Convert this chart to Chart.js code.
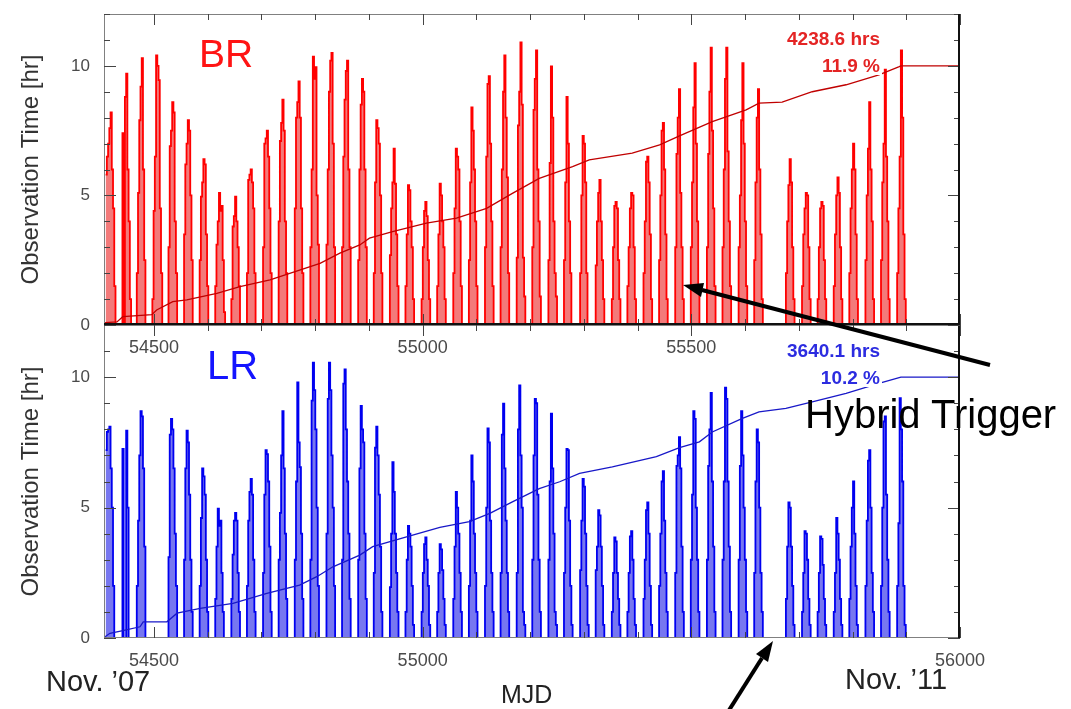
<!DOCTYPE html>
<html>
<head>
<meta charset="utf-8">
<script src="https://cdn.jsdelivr.net/npm/chart.js@4.4.0/dist/chart.umd.min.js"></script>
<style>
  html, body { margin: 0; padding: 0; background: #fff; }
  #page { position: relative; width: 1071px; height: 709px; overflow: hidden;
          font-family: "Liberation Sans", Arial, sans-serif; }
  canvas { position: absolute; left: 0; }
  #brChart { top: 0; z-index: 2; }
  #lrChart { top: 325px; z-index: 1; }
  .lbl { position: absolute; line-height: 1; white-space: nowrap; z-index: 3; }
  .stat { font-weight: bold; font-size: 19px; text-align: right; background: #fff; padding: 0 2px; }
  #arrows { position: absolute; left: 0; top: 0; z-index: 4; }
</style>
</head>
<body>
<div id="page">
  <canvas id="lrChart" width="1071" height="384" style="width:1071px;height:384px"></canvas>
  <canvas id="brChart" width="1071" height="360" style="width:1071px;height:360px"></canvas>

  <div class="lbl" style="left:199px; top:34px; font-size:39px; color:#ff1414;">BR</div>
  <div class="lbl" style="left:207px; top:345px; font-size:40px; color:#1414ff;">LR</div>

  <div class="lbl stat" style="right:189px; top:29px; color:#e42424;">4238.6 hrs</div>
  <div class="lbl stat" style="right:189px; top:56px; color:#e42424;">11.9 %</div>
  <div class="lbl stat" style="right:189px; top:341px; color:#2c2ce0;">3640.1 hrs</div>
  <div class="lbl stat" style="right:189px; top:368px; color:#2c2ce0;">10.2 %</div>

  <div class="lbl" style="left:805px; top:394px; font-size:40px; color:#000;">Hybrid Trigger</div>
  <div class="lbl" style="left:46px; top:667px; font-size:29px; color:#222;">Nov. ’07</div>
  <div class="lbl" style="left:501px; top:682px; font-size:25px; color:#222;">MJD</div>
  <div class="lbl" style="left:845px; top:665px; font-size:29px; color:#222;">Nov. ’11</div>

  <svg id="arrows" width="1071" height="709">
    <line x1="990" y1="365" x2="702" y2="290" stroke="#000" stroke-width="4"/>
    <polygon points="683,285 704,283 701,297" fill="#000"/>
    <line x1="726" y1="715" x2="762" y2="658" stroke="#000" stroke-width="4"/>
    <polygon points="773,641 768,662 756,654" fill="#000"/>
  </svg>
</div>

<script>
// MJD of the first night of each dark period (lunar cycle)
const cycleStart = [
  54410, 54439, 54468, 54497, 54527, 54556, 54585, 54614, 54644, 54673,
  54703, 54732, 54762, 54791, 54821, 54850, 54880, 54909, 54939, 54968,
  54998, 55027, 55057, 55086, 55116, 55145, 55175, 55204, 55234, 55263,
  55293, 55322, 55352, 55381, 55411, 55440, 55470, 55499, 55529, 55558,
  55588, 55617, 55676, 55706, 55735, 55765, 55794, 55824, 55853, 55883
];
const ENTRY_DAYS = 2.3; // days covered by each entry below

// observation hours per entry, BR station
const brHours = [
  [5.8, 6.5, 7.0, 7.6, 8.2, 6.0, 4.5, 1.5],
  [0, 7.4, 0, 8.8, 9.7, 6.0, 4.0, 1.0],
  [2.0, 5.1, 7.9, 9.2, 10.3, 6.0, 2.5, 0],
  [1.0, 4.4, 6.5, 10.4, 10.0, 9.45, 4.5, 2.0],
  [3.0, 6.9, 7.5, 8.6, 8.2, 4.0, 2.0, 0],
  [3.5, 6.2, 7.0, 7.9, 7.5, 5.0, 2.5, 0],
  [2.5, 4.95, 5.5, 6.4, 6.2, 3.5, 1.5, 0],
  [1.5, 3.1, 4.0, 5.1, 4.4, 4.6, 2.5, 0.5],
  [1.0, 3.8, 4.2, 4.95, 4.0, 3.0, 1.5, 0],
  [2.0, 5.6, 5.8, 6.0, 5.5, 4.5, 2.0, 0],
  [3.0, 7.0, 7.2, 7.5, 6.5, 4.5, 2.0, 0],
  [4.0, 7.1, 7.8, 8.7, 7.5, 4.0, 2.0, 0],
  [4.5, 8.0, 8.6, 9.4, 8.0, 4.5, 2.0, 0],
  [3.0, 6.0, 10.35, 9.5, 9.95, 5.0, 3.1, 0],
  [3.1, 6.0, 9.0, 10.2, 10.5, 7.0, 3.0, 0],
  [3.0, 6.5, 8.7, 9.8, 10.2, 6.0, 3.0, 0],
  [2.5, 6.0, 8.5, 9.5, 9.0, 6.0, 3.0, 0],
  [2.0, 5.5, 7.9, 7.6, 7.0, 5.0, 2.0, 0],
  [2.7, 4.5, 5.5, 6.8, 5.45, 3.5, 1.5, 0],
  [1.5, 3.5, 5.4, 5.2, 4.0, 3.0, 1.0, 0],
  [1.0, 3.0, 4.4, 4.75, 4.2, 2.5, 1.0, 0],
  [1.5, 3.5, 5.45, 5.0, 4.0, 3.0, 1.0, 0],
  [2.0, 4.5, 6.8, 6.5, 6.0, 4.0, 1.5, 0],
  [2.5, 5.5, 8.4, 7.5, 6.0, 4.0, 1.5, 0],
  [3.0, 6.5, 9.3, 9.6, 7.0, 4.0, 1.5, 0],
  [3.0, 6.0, 9.0, 10.4, 8.0, 5.7, 2.0, 0],
  [2.6, 7.7, 9.0, 10.9, 8.5, 2.6, 1.1, 0],
  [3.0, 8.3, 9.5, 10.6, 6.0, 4.0, 1.1, 0],
  [2.5, 6.25, 9.98, 8.0, 4.0, 2.0, 1.1, 0],
  [2.5, 5.5, 8.8, 7.0, 4.0, 2.0, 0, 0],
  [2.0, 5.0, 7.3, 7.0, 5.5, 2.0, 0, 0],
  [2.3, 4.0, 5.1, 5.6, 4.0, 2.5, 1.0, 0],
  [1.0, 3.0, 4.6, 4.75, 4.5, 2.5, 1.0, 0],
  [1.5, 3.0, 4.5, 5.1, 5.0, 3.0, 1.0, 0],
  [2.0, 4.0, 6.3, 6.5, 5.5, 3.5, 1.0, 0],
  [2.5, 5.0, 7.5, 7.8, 6.0, 3.5, 1.0, 0],
  [3.0, 6.6, 8.0, 9.1, 5.1, 3.0, 1.0, 0],
  [3.0, 5.5, 8.4, 10.1, 7.0, 4.0, 1.5, 0],
  [3.0, 6.6, 9.0, 10.7, 7.5, 4.5, 1.5, 0],
  [3.0, 6.0, 9.5, 10.7, 6.7, 4.0, 1.5, 0],
  [3.0, 5.0, 7.9, 10.1, 7.0, 4.0, 1.5, 0],
  [2.5, 5.5, 8.0, 9.1, 6.0, 3.5, 1.0, 0],
  [2.0, 4.0, 5.4, 6.4, 5.5, 3.0, 1.0, 0],
  [1.5, 3.5, 4.5, 5.1, 5.0, 3.0, 1.0, 0],
  [1.0, 3.0, 4.5, 4.75, 4.6, 2.5, 1.0, 0],
  [1.5, 3.5, 5.0, 5.7, 5.1, 3.0, 1.0, 0],
  [2.0, 4.5, 6.0, 7.0, 6.0, 3.5, 1.0, 0],
  [2.5, 5.0, 6.8, 8.6, 6.0, 4.0, 1.0, 0],
  [2.5, 5.5, 7.0, 9.85, 6.5, 4.0, 1.0, 0],
  [2.0, 4.5, 6.5, 10.6, 8.0, 3.5, 1.0, 0]
];

// observation hours per entry, LR station
const lrHours = [
  [7.2, 7.9, 8.0, 8.1, 6.5, 5.0, 2.0, 0],
  [0, 7.25, 0, 0, 7.95, 5.0, 0, 0],
  [2.0, 4.5, 7.0, 8.7, 8.5, 6.5, 3.5, 0],
  [],
  [3.1, 7.8, 8.4, 8.0, 6.5, 4.0, 2.0, 0],
  [3.0, 6.5, 7.95, 7.5, 5.5, 3.0, 1.0, 0],
  [2.0, 4.6, 6.5, 6.2, 5.5, 3.0, 1.0, 0],
  [1.5, 3.5, 4.96, 4.3, 4.5, 2.5, 1.0, 0],
  [1.5, 3.2, 4.5, 4.8, 4.5, 2.5, 1.0, 0],
  [2.0, 4.5, 5.6, 6.1, 5.5, 3.0, 1.0, 0],
  [2.5, 5.5, 7.2, 7.05, 6.0, 3.5, 1.0, 0],
  [3.0, 4.8, 7.0, 8.7, 6.5, 4.0, 1.5, 0],
  [3.0, 6.0, 9.8, 7.5, 6.55, 4.0, 1.5, 0],
  [3.0, 9.1, 10.56, 9.5, 8.0, 5.0, 2.0, 0],
  [4.0, 9.17, 10.56, 9.5, 7.0, 5.0, 2.0, 0],
  [3.0, 9.75, 10.3, 8.0, 6.0, 4.0, 1.5, 0],
  [3.0, 6.5, 8.9, 8.0, 7.5, 4.0, 1.5, 0],
  [2.5, 7.3, 8.1, 7.0, 5.5, 3.5, 1.0, 0],
  [1.95, 4.0, 6.74, 5.6, 4.0, 2.5, 1.0, 0],
  [1.0, 3.0, 4.3, 4.0, 3.5, 2.0, 0.5, 0],
  [1.0, 2.5, 3.6, 3.86, 3.0, 2.0, 0.5, 0],
  [1.0, 2.5, 3.6, 3.4, 2.6, 1.5, 0.5, 0],
  [1.5, 3.5, 5.6, 5.0, 4.0, 2.5, 1.0, 0],
  [2.0, 4.5, 7.0, 6.0, 4.0, 2.5, 1.0, 0],
  [2.0, 5.0, 8.04, 7.5, 4.5, 2.5, 1.0, 0],
  [2.5, 7.8, 8.98, 6.5, 4.5, 2.5, 1.0, 0],
  [2.5, 8.0, 9.68, 7.0, 5.0, 1.0, 0.5, 0],
  [3.0, 7.0, 9.17, 9.0, 5.5, 3.0, 1.0, 0],
  [3.0, 6.0, 8.6, 6.5, 4.0, 1.0, 0.5, 0],
  [2.5, 5.0, 7.25, 7.2, 4.5, 2.0, 0.5, 0],
  [2.6, 4.5, 6.1, 5.8, 4.0, 2.0, 0.5, 0],
  [2.6, 3.5, 4.9, 4.7, 3.5, 2.0, 0.5, 0],
  [1.0, 2.5, 3.86, 3.7, 2.5, 1.5, 0.5, 0],
  [1.0, 2.5, 3.9, 4.1, 3.0, 1.5, 0.5, 0],
  [1.5, 3.0, 4.9, 5.2, 4.0, 2.0, 0.5, 0],
  [2.0, 4.0, 6.0, 6.4, 4.5, 2.5, 1.0, 0],
  [2.5, 6.6, 7.0, 7.7, 6.5, 3.5, 1.0, 0],
  [3.0, 5.5, 8.7, 8.4, 5.0, 3.0, 1.0, 0],
  [3.0, 6.6, 8.0, 9.4, 6.0, 3.5, 1.0, 0],
  [3.0, 6.0, 9.6, 9.17, 6.0, 3.5, 1.0, 0],
  [3.0, 6.6, 8.7, 7.0, 5.0, 3.0, 1.0, 0],
  [2.5, 6.0, 8.0, 7.5, 5.0, 2.5, 1.0, 0],
  [1.5, 3.5, 5.2, 5.0, 3.5, 2.0, 0.5, 0],
  [1.0, 2.5, 4.1, 4.0, 3.0, 1.5, 0.5, 0],
  [1.0, 2.5, 3.9, 3.8, 2.8, 1.5, 0.5, 0],
  [1.0, 2.5, 4.6, 4.0, 3.0, 1.5, 0.5, 0],
  [1.5, 3.5, 5.0, 6.0, 4.0, 2.0, 0.5, 0],
  [2.0, 4.5, 6.8, 7.2, 5.0, 2.5, 1.0, 0],
  [2.0, 5.0, 8.3, 8.5, 5.5, 3.0, 1.0, 0],
  [2.0, 4.4, 9.2, 8.0, 6.0, 2.0, 0.5, 0]
];

// accumulated exposure, scaled so the total is 10
const brCumMjd = [54409, 54431, 54442, 54496, 54505, 54535, 54561, 54617, 54660, 54716,
  54771, 54809, 54846, 54883, 54901, 54944, 55007, 55063, 55119, 55167, 55217, 55279,
  55310, 55390, 55441, 55478, 55539, 55602, 55626, 55669, 55725, 55788, 55849, 55887,
  55890, 56000];
const brCumVal = [0.09, 0.12, 0.32, 0.40, 0.58, 0.90, 0.97, 1.22, 1.48, 1.74,
  2.12, 2.38, 2.77, 3.09, 3.35, 3.60, 3.93, 4.12, 4.50, 5.08, 5.66, 6.11,
  6.37, 6.63, 6.95, 7.30, 7.85, 8.30, 8.56, 8.60, 9.00, 9.27, 9.65, 9.97,
  10.0, 10.0];

const lrCumMjd = [54409, 54418, 54442, 54474, 54480, 54524, 54543, 54586, 54647, 54710,
  54771, 54803, 54833, 54883, 54907, 54970, 55032, 55087, 55125, 55167, 55217, 55255,
  55292, 55353, 55435, 55478, 55515, 55539, 55595, 55626, 55676, 55725, 55788, 55849,
  55890, 56000];
const lrCumVal = [0.05, 0.18, 0.28, 0.43, 0.62, 0.62, 0.95, 1.14, 1.33, 1.71,
  2.03, 2.35, 2.73, 3.18, 3.50, 3.88, 4.24, 4.46, 4.78, 5.22, 5.73, 5.99,
  6.31, 6.56, 6.95, 7.30, 7.52, 7.90, 8.42, 8.67, 8.80, 9.05, 9.38, 9.76,
  10.0, 10.0];

const mjdTicks = [54500, 54600, 54700, 54800, 54900, 55000, 55100, 55200,
  55300, 55400, 55500, 55600, 55700, 55800, 55900, 56000];
const brMjdLabels = [54500, 55000, 55500];
const lrMjdLabels = [54500, 55000, 56000];

Chart.defaults.font.family = '"Liberation Sans", Arial, sans-serif';

function nightlyPoints(hours) {
  const pts = [];
  cycleStart.forEach((start, i) => {
    const h = hours[i];
    if (!h.length) return;
    h.forEach((v, j) => pts.push({ x: start + ENTRY_DAYS * j, y: v }));
    pts.push({ x: start + ENTRY_DAYS * h.length, y: 0 });
  });
  return pts;
}

function cumPoints(mjd, val) {
  return mjd.map((m, i) => ({ x: m, y: val[i] }));
}

// box around the plot with inward ticks on all four sides
function framePlugin(heavyBottom) {
  return {
    id: 'frame',
    afterDatasetsDraw(chart) {
      const { ctx, chartArea: a, scales: { x, y } } = chart;
      ctx.save();
      ctx.lineWidth = 1;
      ctx.strokeStyle = '#808080';
      ctx.strokeRect(a.left + 0.5, a.top + 0.5, a.right - a.left - 1, a.bottom - a.top - 1);

      ctx.strokeStyle = '#444';
      ctx.beginPath();
      y.ticks.forEach(t => {
        const py = Math.round(y.getPixelForValue(t.value)) + 0.5;
        const len = t.value % 5 === 0 ? 12 : 6;
        ctx.moveTo(a.left, py); ctx.lineTo(a.left + len, py);
        ctx.moveTo(a.right, py); ctx.lineTo(a.right - len, py);
      });
      x.ticks.forEach(t => {
        const px = Math.round(x.getPixelForValue(t.value)) + 0.5;
        const len = t.value % 500 === 0 ? 11 : 6;
        ctx.moveTo(px, a.top); ctx.lineTo(px, a.top + len);
        ctx.moveTo(px, a.bottom); ctx.lineTo(px, a.bottom - len);
      });
      ctx.stroke();

      ctx.strokeStyle = '#111';
      ctx.lineWidth = 2;
      ctx.beginPath();
      ctx.moveTo(a.right - 1, a.top); ctx.lineTo(a.right - 1, a.bottom);
      if (heavyBottom) { ctx.moveTo(a.left, a.bottom - 1); ctx.lineTo(a.right, a.bottom - 1); }
      ctx.stroke();
      ctx.restore();
    }
  };
}

function makeChart(id, cfg) {
  return new Chart(document.getElementById(id), {
    type: 'line',
    data: {
      datasets: [
        {
          data: cumPoints(cfg.cumMjd, cfg.cumVal),
          borderColor: cfg.cumColor,
          borderWidth: 1.3,
          pointRadius: 0,
          tension: 0,
          fill: false
        },
        {
          data: nightlyPoints(cfg.hours),
          stepped: true,
          borderColor: cfg.lineColor,
          borderWidth: 1.8,
          backgroundColor: cfg.fillColor,
          fill: 'origin',
          pointRadius: 0
        }
      ]
    },
    options: {
      responsive: false,
      animation: false,
      devicePixelRatio: 1,
      layout: { padding: { left: 0, right: 111, top: cfg.padTop, bottom: 0 } },
      plugins: { legend: { display: false }, tooltip: { enabled: false } },
      scales: {
        x: {
          type: 'linear',
          min: 54407,
          max: 56000,
          afterBuildTicks(s) { s.ticks = mjdTicks.map(v => ({ value: v })); },
          afterFit(s) { s.height = cfg.xHeight; s.paddingLeft = 0; s.paddingRight = 0; },
          grid: { display: false, drawTicks: false },
          border: { display: false },
          ticks: {
            autoSkip: false,
            maxRotation: 0,
            padding: 12,
            color: '#4a4a4a',
            font: { size: 18 },
            callback: v => (cfg.mjdLabels.includes(v) ? String(v) : '')
          }
        },
        y: {
          min: 0,
          max: 12,
          afterFit(s) { s.width = 104; s.paddingTop = 0; s.paddingBottom = 0; },
          grid: { display: false, drawTicks: false },
          border: { display: false },
          ticks: {
            stepSize: 1,
            padding: 14,
            color: '#4a4a4a',
            font: { size: 17 },
            callback: v => (v % 5 === 0 ? String(v) : '')
          },
          title: {
            display: true,
            text: 'Observation Time [hr]',
            color: '#333',
            font: { size: 24 },
            padding: { top: 17, bottom: 0 }
          }
        }
      }
    },
    plugins: [framePlugin(cfg.heavyBottom)]
  });
}

makeChart('brChart', {
  hours: brHours,
  cumMjd: brCumMjd,
  cumVal: brCumVal,
  lineColor: '#ff0000',
  fillColor: 'rgba(235, 40, 40, 0.62)',
  cumColor: '#c00000',
  mjdLabels: brMjdLabels,
  padTop: 14,
  xHeight: 35,
  heavyBottom: true
});

makeChart('lrChart', {
  hours: lrHours,
  cumMjd: lrCumMjd,
  cumVal: lrCumVal,
  lineColor: '#0000f0',
  fillColor: 'rgba(20, 20, 230, 0.58)',
  cumColor: '#1818c8',
  mjdLabels: lrMjdLabels,
  padTop: 0,
  xHeight: 71,
  heavyBottom: false
});
</script>
</body>
</html>
